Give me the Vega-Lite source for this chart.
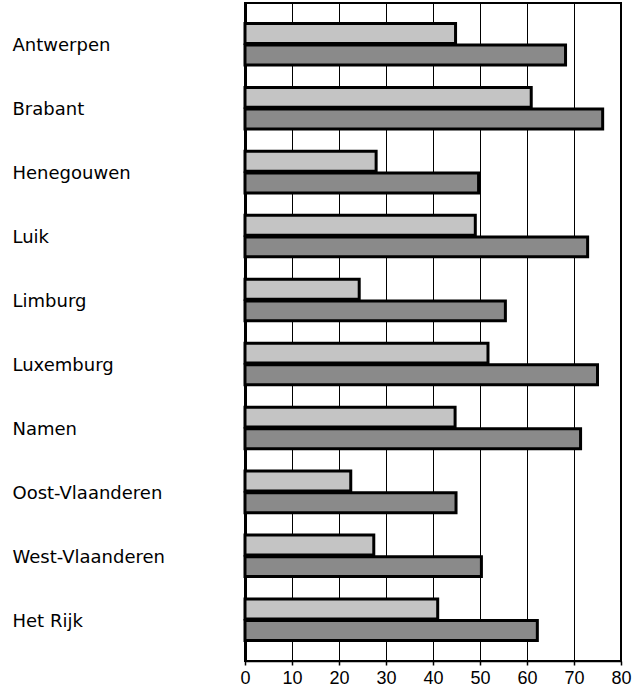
{
  "$schema": "https://vega.github.io/schema/vega-lite/v6.json",
  "autosize": {"type": "none"},
  "padding": {"left": 245, "top": 3, "right": 20, "bottom": 36},
  "width": 376,
  "height": 658,
  "background": "white",
  "config": {
    "view": {"stroke": "#000", "strokeWidth": 2},
    "font": "Liberation Sans"
  },
  "data": {
    "values": [
      {"provincie": "Antwerpen", "reeks": "reeks 1", "waarde": 44.8},
      {"provincie": "Antwerpen", "reeks": "reeks 2", "waarde": 68.2},
      {"provincie": "Brabant", "reeks": "reeks 1", "waarde": 60.9},
      {"provincie": "Brabant", "reeks": "reeks 2", "waarde": 76.1},
      {"provincie": "Henegouwen", "reeks": "reeks 1", "waarde": 27.9},
      {"provincie": "Henegouwen", "reeks": "reeks 2", "waarde": 49.7},
      {"provincie": "Luik", "reeks": "reeks 1", "waarde": 49.0},
      {"provincie": "Luik", "reeks": "reeks 2", "waarde": 72.9},
      {"provincie": "Limburg", "reeks": "reeks 1", "waarde": 24.3},
      {"provincie": "Limburg", "reeks": "reeks 2", "waarde": 55.4},
      {"provincie": "Luxemburg", "reeks": "reeks 1", "waarde": 51.7},
      {"provincie": "Luxemburg", "reeks": "reeks 2", "waarde": 75.0},
      {"provincie": "Namen", "reeks": "reeks 1", "waarde": 44.7},
      {"provincie": "Namen", "reeks": "reeks 2", "waarde": 71.4},
      {"provincie": "Oost-Vlaanderen", "reeks": "reeks 1", "waarde": 22.5},
      {"provincie": "Oost-Vlaanderen", "reeks": "reeks 2", "waarde": 44.9},
      {"provincie": "West-Vlaanderen", "reeks": "reeks 1", "waarde": 27.4},
      {"provincie": "West-Vlaanderen", "reeks": "reeks 2", "waarde": 50.3},
      {"provincie": "Het Rijk", "reeks": "reeks 1", "waarde": 41.0},
      {"provincie": "Het Rijk", "reeks": "reeks 2", "waarde": 62.2}
    ]
  },
  "mark": {"type": "bar", "stroke": "#000", "strokeWidth": 3, "cornerRadius": 0},
  "encoding": {
    "y": {
      "field": "provincie",
      "type": "nominal",
      "sort": null,
      "scale": {"paddingInner": 0.35, "paddingOuter": 0.32},
      "axis": {
        "title": null,
        "ticks": false,
        "labelAlign": "left",
        "labelPadding": 233,
        "labelOffset": 2,
        "labelFontSize": 18,
        "labelColor": "#000",
        "labelFont": "DejaVu Sans",
        "domain": true,
        "domainColor": "#000",
        "domainWidth": 3,
        "grid": false
      }
    },
    "yOffset": {
      "field": "reeks",
      "type": "nominal",
      "sort": ["reeks 1", "reeks 2"],
      "scale": {"paddingInner": 0.08}
    },
    "x": {
      "field": "waarde",
      "type": "quantitative",
      "scale": {"domain": [0, 80], "nice": false},
      "axis": {
        "title": null,
        "values": [0, 10, 20, 30, 40, 50, 60, 70, 80],
        "grid": true,
        "gridColor": "#000",
        "gridWidth": 1,
        "gridOpacity": 1,
        "domainColor": "#000",
        "domainWidth": 1.5,
        "tickColor": "#000",
        "tickSize": 4,
        "tickWidth": 1.5,
        "labelPadding": 4,
        "labelFontSize": 18,
        "labelColor": "#000",
        "labelFont": "Liberation Sans",
        "labelFlush": false
      }
    },
    "fill": {
      "field": "reeks",
      "type": "nominal",
      "scale": {"domain": ["reeks 1", "reeks 2"], "range": ["#c4c4c4", "#8a8a8a"]},
      "legend": null
    }
  }
}
